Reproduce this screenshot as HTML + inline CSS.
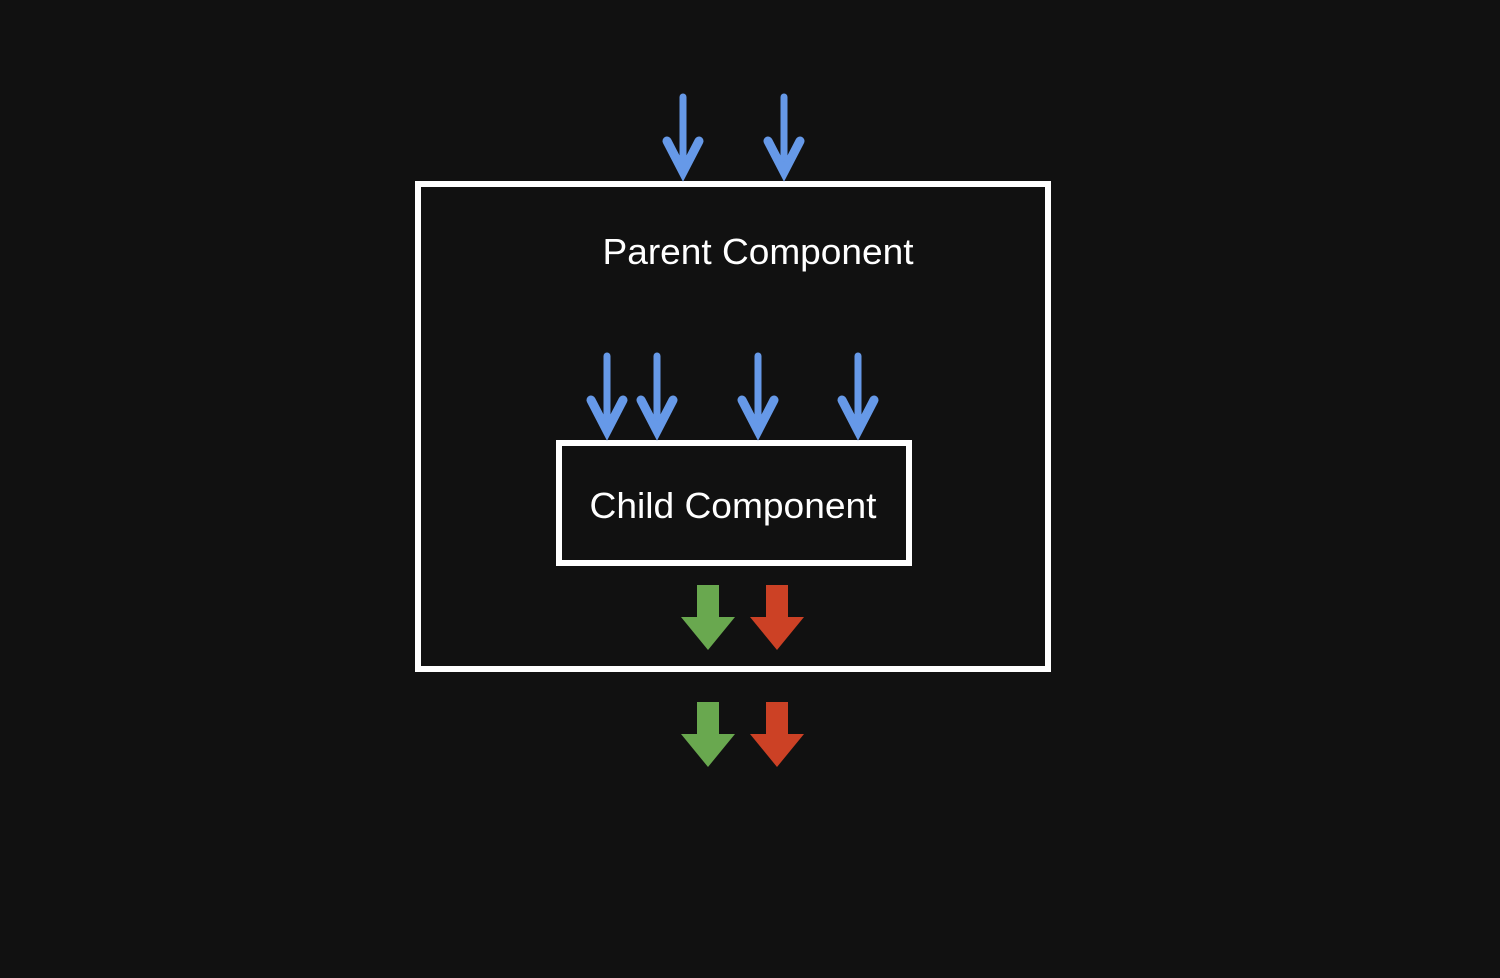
<!DOCTYPE html>
<html><head><meta charset="utf-8"><style>
html,body{margin:0;padding:0;background:#111111;}
svg{display:block;}
text{font-family:"Liberation Sans",sans-serif;fill:#fff;}
</style></head><body>
<svg width="1500" height="978" viewBox="0 0 1500 978">
<rect width="1500" height="978" fill="#111111"/>
<rect x="418" y="184" width="630" height="485" fill="none" stroke="#fff" stroke-width="6"/>
<rect x="559" y="443" width="350" height="120" fill="none" stroke="#fff" stroke-width="6"/>
<text x="758" y="264" font-size="36" text-anchor="middle" textLength="311" lengthAdjust="spacingAndGlyphs">Parent Component</text>
<text x="733" y="518" font-size="36" text-anchor="middle" textLength="287" lengthAdjust="spacingAndGlyphs">Child Component</text>
<g stroke="#6699e8" stroke-width="7" stroke-linecap="round" fill="none">
<line x1="683" y1="97" x2="683" y2="172"/>
<line x1="784" y1="97" x2="784" y2="172"/>
<line x1="607" y1="356" x2="607" y2="431"/>
<line x1="657" y1="356" x2="657" y2="431"/>
<line x1="758" y1="356" x2="758" y2="431"/>
<line x1="858" y1="356" x2="858" y2="431"/>
</g>
<g stroke="#6699e8" stroke-width="9" stroke-linecap="round" stroke-linejoin="miter" stroke-miterlimit="10" fill="none">
<polyline points="667,141 683,172 699,141"/>
<polyline points="768,141 784,172 800,141"/>
<polyline points="591,400 607,431 623,400"/>
<polyline points="641,400 657,431 673,400"/>
<polyline points="742,400 758,431 774,400"/>
<polyline points="842,400 858,431 874,400"/>
</g>
<g fill="#69a84f">
<polygon points="697,585 719,585 719,617 735,617 708,650 681,617 697,617"/>
<polygon points="697,702 719,702 719,734 735,734 708,767 681,734 697,734"/>
</g>
<g fill="#cc4125">
<polygon points="766,585 788,585 788,617 804,617 777,650 750,617 766,617"/>
<polygon points="766,702 788,702 788,734 804,734 777,767 750,734 766,734"/>
</g>
</svg>
</body></html>
